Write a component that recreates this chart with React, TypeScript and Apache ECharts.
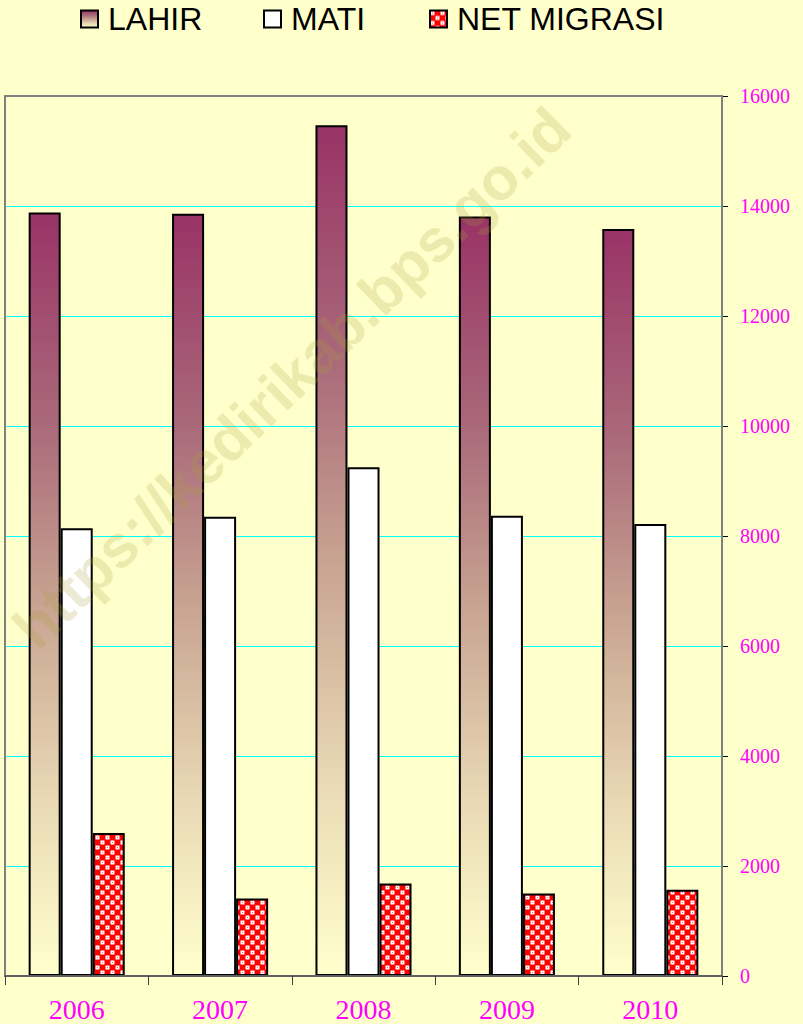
import React, { useEffect, useRef } from "react";
import * as echarts from "echarts";

const years = ["2006", "2007", "2008", "2009", "2010"];
const lahir = [13880, 13860, 15470, 13810, 13580];
const mati = [8140, 8350, 9250, 8370, 8220];
const netMigrasi = [2600, 1410, 1680, 1500, 1570];
const yTicks = { min: 0, max: 16000, interval: 2000 };

function makePattern(): HTMLCanvasElement {
  const c = document.createElement("canvas");
  c.width = 10;
  c.height = 10;
  const ctx = c.getContext("2d")!;
  ctx.fillStyle = "#ff0000";
  ctx.fillRect(0, 0, 10, 10);
  ctx.fillStyle = "#ffffff";
  ctx.fillRect(0.5, 0.5, 4, 4);
  ctx.fillRect(5.5, 5.5, 4, 4);
  ctx.fillStyle = "#ff6060";
  ctx.fillRect(2, 2, 1, 1);
  ctx.fillRect(7, 7, 1, 1);
  return c;
}

export default function App() {
  const ref = useRef<HTMLDivElement>(null);
  useEffect(() => {
    if (!ref.current) return;
    const chart = echarts.init(ref.current, null, { renderer: "svg" });
    const pattern = makePattern();
    const lahirGrad = new echarts.graphic.LinearGradient(0, 0, 0, 1, [
      { offset: 0, color: "#993366" },
      { offset: 0.28, color: "#AA6A7A" },
      { offset: 0.52, color: "#C9A592" },
      { offset: 0.78, color: "#EADBB6" },
      { offset: 1, color: "#FFFFCC" },
    ]);
    const legendText = {
      fontFamily: "Liberation Sans, Arial, sans-serif",
      fontSize: 32,
      color: "#000",
      padding: [0, 0, 0, 5],
    };
    const legendBase = {
      top: 3,
      padding: 0,
      itemWidth: 17,
      itemHeight: 17,
      icon: "rect",
      textStyle: legendText,
      selectedMode: false,
    };
    chart.setOption({
      animation: false,
      backgroundColor: "#FFFFCC",
      legend: [
        { ...legendBase, left: 80, data: ["LAHIR"] },
        { ...legendBase, left: 263, data: ["MATI"] },
        { ...legendBase, left: 429, data: ["NET MIGRASI"] },
      ],
      grid: {
        left: 5,
        right: 81,
        top: 96,
        height: 880,
        show: true,
        z: 3,
        borderColor: "#808080",
        borderWidth: 2,
        backgroundColor: "transparent",
      },
      xAxis: {
        type: "category",
        data: years,
        z: 4,
        axisLine: { lineStyle: { color: "#606060", width: 2 } },
        axisTick: { show: true, interval: 0, length: 9, lineStyle: { color: "#404040", width: 1 } },
        axisLabel: {
          color: "#FF00FF",
          fontFamily: "Liberation Serif, Times New Roman, serif",
          fontSize: 28,
          margin: 19,
        },
      },
      yAxis: {
        type: "value",
        position: "right",
        min: yTicks.min,
        max: yTicks.max,
        interval: yTicks.interval,
        axisLine: { show: true, lineStyle: { color: "#505050", width: 2 } },
        axisTick: { show: true, length: 6, lineStyle: { color: "#000", width: 1 } },
        splitLine: { show: true, lineStyle: { color: "#00FFFF", width: 1 } },
        axisLabel: {
          color: "#FF00FF",
          fontFamily: "Liberation Serif, Times New Roman, serif",
          fontSize: 20,
          margin: 18,
          formatter: (v: number) => String(v),
        },
      },
      series: [
        {
          name: "LAHIR",
          type: "bar",
          data: lahir,
          barGap: "0%",
          barCategoryGap: "33%",
          itemStyle: { color: lahirGrad, borderColor: "#000", borderWidth: 2 },
        },
        {
          name: "MATI",
          type: "bar",
          data: mati,
          itemStyle: { color: "#FFFFFF", borderColor: "#000", borderWidth: 2 },
        },
        {
          name: "NET MIGRASI",
          type: "bar",
          data: netMigrasi,
          itemStyle: {
            color: { image: pattern, repeat: "repeat" },
            borderColor: "#000",
            borderWidth: 2,
          },
        },
      ],
      graphic: [
        {
          type: "text",
          x: 292,
          y: 378,
          rotation: (44 * Math.PI) / 180,
          z: 100,
          silent: true,
          style: {
            text: "https://kedirikab.bps.go.id",
            fontFamily: "Liberation Sans, Arial, sans-serif",
            fontWeight: "bold",
            fontSize: 60,
            fill: "rgba(170,160,60,0.22)",
            align: "center",
            verticalAlign: "middle",
          },
        },
      ],
    });
    return () => chart.dispose();
  }, []);
  return (
    <div
      ref={ref}
      style={{ position: "absolute", left: 0, top: 0, width: 803, height: 1024 }}
    />
  );
}
